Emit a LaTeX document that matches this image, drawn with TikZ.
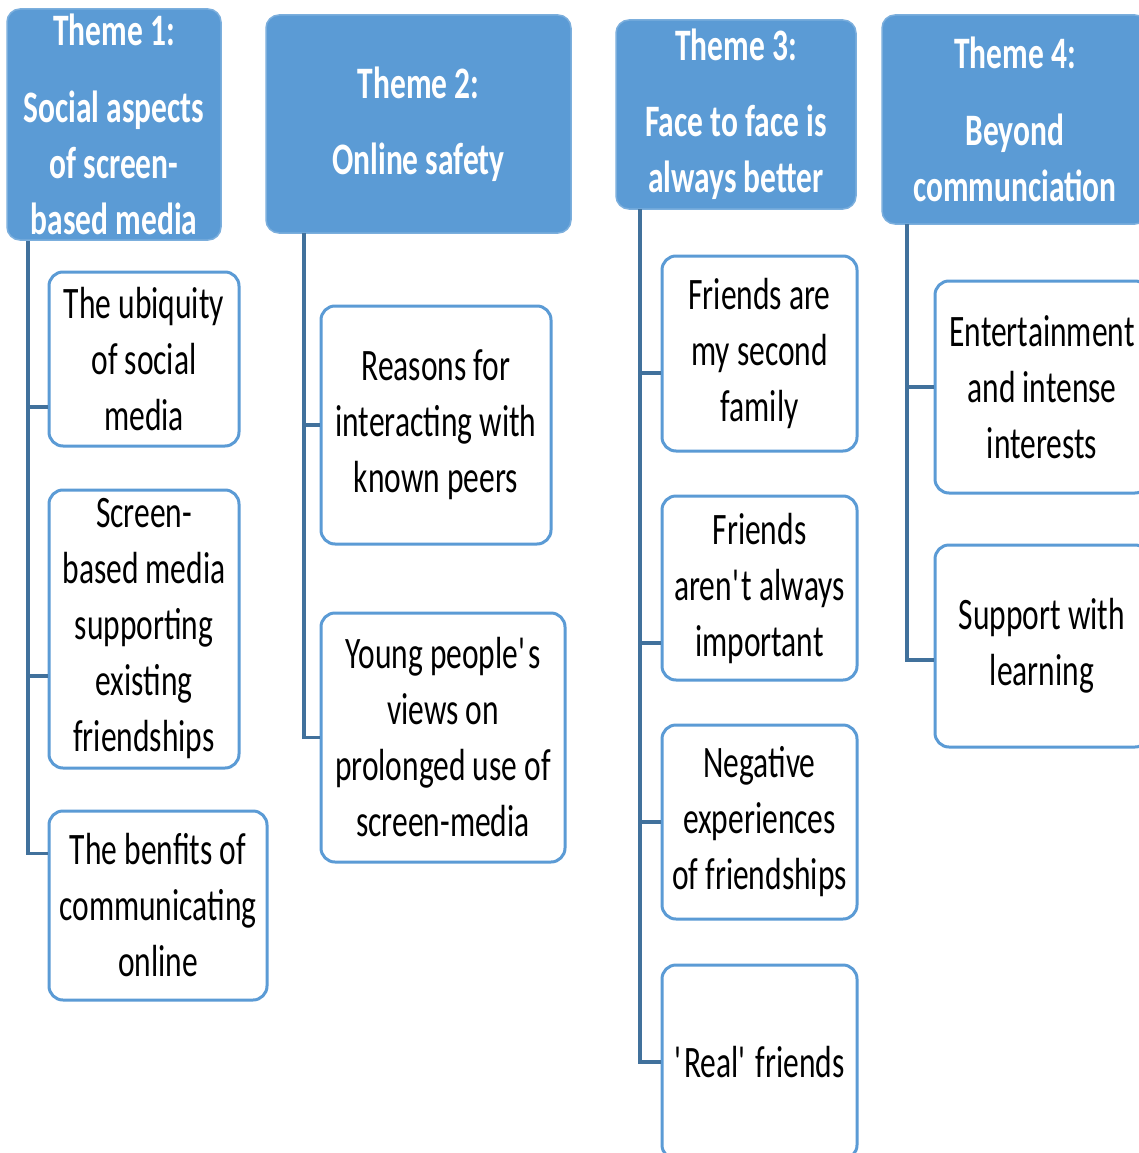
\documentclass[tikz,border=0pt]{standalone}
\usepackage{fontspec}
\setmainfont{Carlito}[FakeStretch=0.7]
\definecolor{hdrblue}{HTML}{5B9BD5}
\definecolor{lnkblue}{HTML}{41719C}
\tikzset{
  hdr/.style={fill=hdrblue, draw=hdrblue!80!white, line width=1.5pt, rounded corners=13pt,
    inner sep=0pt, text=white, align=center, font=\fontsize{45}{56}\selectfont\bfseries},
  sub/.style={fill=white, draw=hdrblue, line width=3pt, rounded corners=14pt,
    inner sep=0pt, text=black, align=center, font=\fontsize{45}{56}\selectfont},
  link/.style={draw=lnkblue, line width=3.3pt}
}
\begin{document}
\begin{tikzpicture}[x=1pt,y=-1pt]
\useasboundingbox (0,0) rectangle (1139,1153);
\fill[white] (0,0) rectangle (1139,1153);
\clip (0,0) rectangle (1139,1153);
% headers
\node[hdr, minimum width=214pt, minimum height=231pt] (h1) at (114,124.5) {Theme 1:\\[21pt]Social aspects\\of screen-\\based media};
\node[hdr, minimum width=305pt, minimum height=218pt] (h2) at (418.5,124) {Theme 2:\\[20pt]Online safety};
\node[hdr, minimum width=240pt, minimum height=189pt] (h3) at (736,114.5) {Theme 3:\\[20pt]Face to face is\\always better};
\node[hdr, minimum width=266pt, minimum height=209pt] (h4) at (1015,119.5) {Theme 4:\\[21pt]Beyond\\communciation};
% theme 1 children
\node[sub, minimum width=190pt, minimum height=174pt] (a1) at (144,359) {The ubiquity\\of social\\media};
\node[sub, minimum width=190pt, minimum height=278pt] (a2) at (144,629) {Screen-\\based media\\supporting\\existing\\friendships};
\node[sub, minimum width=218pt, minimum height=189pt] (a3) at (158,905.5) {The benfits of\\communicating\\online};
% theme 2 children
\node[sub, minimum width=230pt, minimum height=238pt] (b1) at (436,425) {Reasons for\\interacting with\\known peers};
\node[sub, minimum width=244pt, minimum height=249pt] (b2) at (443,737.5) {Young people\textquotesingle s\\views on\\prolonged use of\\screen-media};
% theme 3 children
\node[sub, minimum width=195pt, minimum height=195pt] (c1) at (759.5,353.5) {Friends are\\my second\\family};
\node[sub, minimum width=195pt, minimum height=184pt] (c2) at (759.5,588) {Friends\\aren\textquotesingle t always\\important};
\node[sub, minimum width=195pt, minimum height=194pt] (c3) at (759.5,822) {Negative\\experiences\\of friendships};
\node[sub, minimum width=195pt, minimum height=194pt] (c4) at (759.5,1062) {\textquotesingle Real\textquotesingle\ friends};
% theme 4 children
\node[sub, minimum width=214pt, minimum height=212pt] (d1) at (1042,387) {Entertainment\\and intense\\interests};
\node[sub, minimum width=214pt, minimum height=202pt] (d2) at (1042,646) {Support with\\learning};
% connector anchors
\coordinate (r1) at (28,241);
\coordinate (r2) at (304,233);
\coordinate (r3) at (640,209);
\coordinate (r4) at (907,224);
% connectors
\draw[link] (r1) |- ([yshift=-48pt]a1.west);
\draw[link] (r1) |- ([yshift=-47pt]a2.west);
\draw[link] (r1) |- ([yshift=52pt]a3.west);
\draw[link] (r2) |- (b1.west);
\draw[link] (r2) |- (b2.west);
\draw[link] (r3) |- ([yshift=-19.5pt]c1.west);
\draw[link] (r3) |- ([yshift=-55pt]c2.west);
\draw[link] (r3) |- (c3.west);
\draw[link] (r3) |- (c4.west);
\draw[link] (r4) |- (d1.west);
\draw[link] (r4) |- ([yshift=-14pt]d2.west);
\end{tikzpicture}
\end{document}
